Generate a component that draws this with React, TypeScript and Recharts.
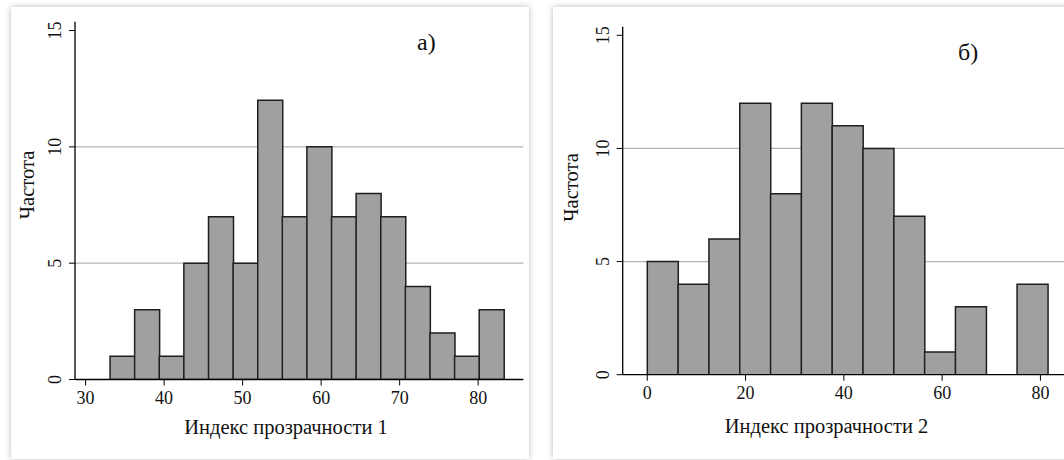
import React from "react";
import { BarChart, Bar, XAxis, YAxis, ReferenceLine } from "recharts";

// panel а): bin centres and frequencies
const bins1 = [34.68, 37.81, 40.95, 44.08, 47.22, 50.35, 53.49, 56.62, 59.75, 62.89, 66.02, 69.16, 72.29, 75.43, 78.56, 81.7];
const counts1 = [1, 3, 1, 5, 7, 5, 12, 7, 10, 7, 8, 7, 4, 2, 1, 3];
const xTicks1 = [30, 40, 50, 60, 70, 80];

// panel б)
const bins2 = [3.14, 9.41, 15.68, 21.95, 28.22, 34.49, 40.76, 47.03, 53.3, 59.57, 65.84, 72.11, 78.38];
const counts2 = [5, 4, 6, 12, 8, 12, 11, 10, 7, 1, 3, 0, 4];
const xTicks2 = [0, 20, 40, 60, 80];

const yTicks = [0, 5, 10, 15];
const gridValues = [5, 10];

const FONT = "'Liberation Serif', 'Times New Roman', serif";
const INK = "#111";

function YTick(props: any) {
  const { x, y, payload } = props;
  const bx = x - 8;
  return (
    <text
      x={bx}
      y={y}
      transform={`rotate(-90, ${bx}, ${y})`}
      textAnchor="middle"
      fontSize={18}
      fontFamily={FONT}
      fill={INK}
    >
      {payload.value}
    </text>
  );
}

function XTick(props: any) {
  const { x, y, payload } = props;
  return (
    <text x={x} y={y + 18} textAnchor="middle" fontSize={18} fontFamily={FONT} fill={INK}>
      {payload.value}
    </text>
  );
}

type PanelProps = {
  left: number;
  bins: number[];
  counts: number[];
  xTicks: number[];
  xDomain: [number, number];
  yAxisWidth: number;
  margin: { top: number; right: number; left: number; bottom: number };
  title: string;
  titlePos: [number, number];
  yLabelPos: [number, number];
  xLabel: string;
  xLabelPos: [number, number];
};

function Panel(p: PanelProps) {
  const data = p.bins.map((x, i) => ({ x, count: p.counts[i] }));
  return (
    <div
      style={{
        position: "absolute",
        left: p.left,
        top: 7,
        width: 518,
        height: 452,
        background: "#fff",
        boxShadow: "0 0 6px rgba(0,0,0,0.28)",
      }}
    >
      <BarChart width={518} height={452} data={data} margin={p.margin} barCategoryGap={0} barGap={0}>
        <XAxis
          dataKey="x"
          type="number"
          domain={p.xDomain}
          ticks={p.xTicks}
          interval={0}
          allowDataOverflow
          tickSize={6}
          tickMargin={0}
          height={30}
          axisLine={{ stroke: "#000", strokeWidth: 1.3 }}
          tickLine={{ stroke: "#000", strokeWidth: 1 }}
          tick={<XTick />}
        />
        <YAxis
          type="number"
          domain={[0, 15.38]}
          ticks={yTicks}
          interval={0}
          allowDataOverflow
          tickSize={6}
          tickMargin={0}
          width={p.yAxisWidth}
          axisLine={{ stroke: "#000", strokeWidth: 1.3 }}
          tickLine={{ stroke: "#000", strokeWidth: 1 }}
          tick={<YTick />}
        />
        {gridValues.map((v) => (
          <ReferenceLine key={v} y={v} stroke="#b4b4b4" strokeWidth={1.2} zIndex={-100} />
        ))}
        <Bar dataKey="count" fill="#a0a0a0" stroke="#1e1e1e" strokeWidth={1.5} isAnimationActive={false} />
        <text x={p.titlePos[0]} y={p.titlePos[1]} fontSize={24} fontFamily={FONT} fill={INK}>
          {p.title}
        </text>
        <text
          x={p.yLabelPos[0]}
          y={p.yLabelPos[1]}
          transform={`rotate(-90, ${p.yLabelPos[0]}, ${p.yLabelPos[1]})`}
          textAnchor="middle"
          fontSize={20.5}
          fontFamily={FONT}
          fill={INK}
        >
          Частота
        </text>
        <text
          x={p.xLabelPos[0]}
          y={p.xLabelPos[1]}
          textAnchor="middle"
          fontSize={20.5}
          fontFamily={FONT}
          fill={INK}
        >
          {p.xLabel}
        </text>
      </BarChart>
    </div>
  );
}

export default function App() {
  return (
    <div
      style={{
        position: "absolute",
        left: 0,
        top: 0,
        width: 1064,
        height: 460,
        overflow: "hidden",
        background: "#fff",
      }}
    >
      <Panel
        left={11}
        bins={bins1}
        counts={counts1}
        xTicks={xTicks1}
        xDomain={[28.65, 85.75]}
        yAxisWidth={64}
        margin={{ top: 14.7, right: 5.7, left: 0, bottom: 49.5 }}
        title="а)"
        titlePos={[406, 43]}
        yLabelPos={[23, 178]}
        xLabel="Индекс прозрачности 1"
        xLabelPos={[275, 427]}
      />
      <Panel
        left={553}
        bins={bins2}
        counts={counts2}
        xTicks={xTicks2}
        xDomain={[-5, 85]}
        yAxisWidth={69.7}
        margin={{ top: 19.7, right: 6, left: 0, bottom: 54.3 }}
        title="б)"
        titlePos={[405, 53]}
        yLabelPos={[25, 180.5]}
        xLabel="Индекс прозрачности 2"
        xLabelPos={[273.5, 425.7]}
      />
    </div>
  );
}
